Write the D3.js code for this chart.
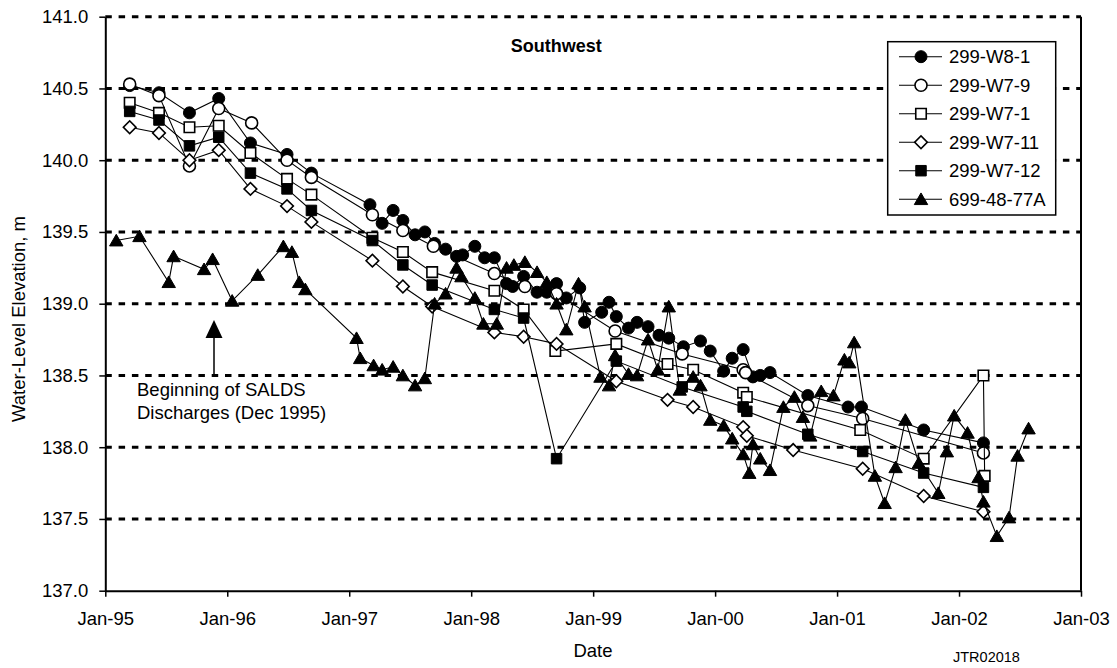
<!DOCTYPE html>
<html><head><meta charset="utf-8">
<script src="https://cdn.jsdelivr.net/npm/d3@7"></script>
<style>body{margin:0;background:#fff}svg{display:block;font-family:Arial,"Liberation Sans",sans-serif}</style>
</head><body><svg id="c" width="1117" height="668"></svg>
<script>
// ---------- DATA ----------
const seriesNames = ["299-W8-1","299-W7-9","299-W7-1","299-W7-11","299-W7-12","699-48-77A"];
const xTickYears = [1995,1996,1997,1998,1999,2000,2001,2002,2003];
const xTickLabels = ["Jan-95","Jan-96","Jan-97","Jan-98","Jan-99","Jan-00","Jan-01","Jan-02","Jan-03"];
const yTickValues = [137.0,137.5,138.0,138.5,139.0,139.5,140.0,140.5,141.0];

const w81Dates = [1995.20,1995.44,1995.69,1995.93,1996.19,1996.49,1996.69,1997.17,1997.27,1997.36,1997.44,1997.54,1997.62,1997.70,1997.79,1997.88,1997.93,1998.03,1998.11,1998.19,1998.29,1998.34,1998.43,1998.54,1998.62,1998.70,1998.78,1998.89,1998.93,1999.07,1999.13,1999.19,1999.29,1999.36,1999.45,1999.54,1999.62,1999.74,1999.88,1999.96,2000.07,2000.14,2000.23,2000.31,2000.37,2000.45,2000.76,2001.09,2001.20,2001.71,2002.20];
const w81Values = [140.52,140.47,140.33,140.43,140.12,140.04,139.91,139.69,139.56,139.65,139.58,139.48,139.50,139.42,139.38,139.33,139.34,139.40,139.32,139.32,139.14,139.12,139.19,139.08,139.08,139.14,139.04,139.11,138.87,138.94,139.01,138.91,138.83,138.87,138.84,138.78,138.76,138.70,138.74,138.67,138.53,138.62,138.68,138.49,138.50,138.52,138.36,138.28,138.28,138.12,138.03];

const w79Dates = [1995.20,1995.44,1995.69,1995.93,1996.20,1996.49,1996.69,1997.19,1997.44,1997.69,1998.19,1998.44,1998.70,1999.18,1999.73,2000.23,2000.25,2000.76,2001.21,2002.20];
const w79Values = [140.53,140.45,139.96,140.36,140.26,140.00,139.88,139.62,139.51,139.40,139.21,139.12,139.07,138.81,138.65,138.54,138.52,138.29,138.20,137.96];

const w71Dates = [1995.20,1995.44,1995.69,1995.93,1996.19,1996.49,1996.69,1997.19,1997.44,1997.68,1998.19,1998.43,1998.69,1999.19,1999.61,1999.82,2000.23,2000.26,2001.19,2001.71,2002.20,2002.21];
const w71Values = [140.40,140.33,140.23,140.24,140.05,139.87,139.76,139.46,139.36,139.22,139.09,138.96,138.67,138.72,138.58,138.54,138.38,138.35,138.12,137.92,138.50,137.80];

const w711Dates = [1995.20,1995.44,1995.69,1995.93,1996.19,1996.49,1996.69,1997.19,1997.44,1997.68,1998.19,1998.43,1998.70,1999.19,1999.61,1999.82,2000.23,2000.26,2000.64,2001.21,2001.71,2002.20];
const w711Values = [140.23,140.19,140.00,140.07,139.80,139.68,139.57,139.30,139.12,138.98,138.80,138.77,138.72,138.46,138.33,138.28,138.14,138.08,137.98,137.85,137.66,137.55];

const w712Dates = [1995.20,1995.44,1995.69,1995.93,1996.19,1996.49,1996.69,1997.19,1997.44,1997.68,1998.19,1998.43,1998.70,1999.19,1999.73,2000.23,2000.26,2000.76,2001.21,2001.71,2002.20];
const w712Values = [140.34,140.28,140.10,140.16,139.91,139.80,139.65,139.44,139.27,139.13,138.96,138.90,137.92,138.60,138.42,138.28,138.25,138.09,137.97,137.82,137.72];

const w4877Dates = [1995.09,1995.28,1995.52,1995.56,1995.81,1995.88,1996.04,1996.25,1996.46,1996.53,1996.59,1996.64,1997.06,1997.09,1997.20,1997.27,1997.36,1997.44,1997.54,1997.62,1997.70,1997.79,1997.88,1997.92,1998.03,1998.10,1998.21,1998.29,1998.35,1998.44,1998.54,1998.62,1998.70,1998.78,1998.88,1998.93,1999.06,1999.13,1999.18,1999.29,1999.36,1999.45,1999.53,1999.62,1999.71,1999.82,1999.88,1999.96,2000.07,2000.14,2000.23,2000.28,2000.31,2000.37,2000.45,2000.56,2000.65,2000.72,2000.78,2000.87,2000.97,2001.06,2001.10,2001.14,2001.31,2001.39,2001.48,2001.56,2001.67,2001.83,2001.90,2001.96,2002.07,2002.16,2002.20,2002.31,2002.41,2002.48,2002.57];
const w4877Values = [139.44,139.47,139.15,139.33,139.24,139.31,139.02,139.20,139.40,139.36,139.15,139.10,138.76,138.62,138.57,138.54,138.56,138.50,138.43,138.48,139.00,139.07,139.25,139.19,139.04,138.86,138.86,139.25,139.27,139.29,139.22,139.15,139.00,138.82,139.14,138.98,138.49,138.43,138.64,138.51,138.50,138.75,138.54,138.98,138.40,138.49,138.43,138.19,138.15,138.06,137.95,137.82,138.02,137.92,137.84,138.28,138.35,138.21,138.08,138.39,138.36,138.61,138.59,138.73,137.80,137.61,137.86,138.19,137.89,137.68,137.97,138.22,138.10,137.79,137.62,137.38,137.51,137.94,138.13];

const allDates = [w81Dates,w79Dates,w71Dates,w711Dates,w712Dates,w4877Dates];
const allValues = [w81Values,w79Values,w71Values,w711Values,w712Values,w4877Values];

// ---------- STYLE ----------
const markerStyle = [
  {shape:"circle", fill:"#000"},
  {shape:"circle", fill:"#fff"},
  {shape:"square", fill:"#fff"},
  {shape:"diamond", fill:"#fff"},
  {shape:"square", fill:"#000"},
  {shape:"triangle", fill:"#000"}
];

const svg = d3.select("#c");
const L = 105.3, R = 1081, T = 16.7, B = 590.7;
const x = d3.scaleLinear().domain([1995, 2003]).range([L, R]);
const y = d3.scaleLinear().domain([137, 141]).range([B, T]);
const FS = "18.5px";

// gridlines
svg.append("g").selectAll("line").data(yTickValues.filter(v => v > 137))
  .join("line")
  .attr("x1", L).attr("x2", R)
  .attr("y1", d => y(d)).attr("y2", d => y(d))
  .attr("stroke", "#000").attr("stroke-width", 3)
  .attr("stroke-dasharray", "6.5,6.8");

// right border
svg.append("line").attr("x1", R).attr("x2", R).attr("y1", T).attr("y2", B)
  .attr("stroke", "#000").attr("stroke-width", 2);

// axes
const yAxis = d3.axisLeft(y).tickValues(yTickValues).tickFormat(d3.format(".1f"))
  .tickSize(6).tickSizeOuter(0).tickPadding(11);
const gy = svg.append("g").attr("transform", `translate(${L},0)`).call(yAxis);
gy.select(".domain").attr("stroke-width", 2);
gy.selectAll(".tick line").attr("stroke-width", 1.5);
gy.selectAll("text").attr("font-size", FS).attr("font-family", "Arial, 'Liberation Sans', sans-serif").attr("fill", "#000");

const xAxis = d3.axisBottom(x).tickValues(xTickYears)
  .tickFormat((d, i) => xTickLabels[i]).tickSize(6).tickSizeOuter(0).tickPadding(15);
const gx = svg.append("g").attr("transform", `translate(0,${B})`).call(xAxis);
gx.select(".domain").attr("stroke-width", 2);
gx.selectAll(".tick line").attr("stroke-width", 1.5);
gx.selectAll("text").attr("font-size", FS).attr("font-family", "Arial, 'Liberation Sans', sans-serif").attr("fill", "#000");

// marker generator
function symbolPath(shape) {
  if (shape === "circle") return d3.symbol(d3.symbolCircle, Math.PI * 36)();
  if (shape === "square") return d3.symbol(d3.symbolSquare, 110)();
  if (shape === "diamond") return d3.symbol(d3.symbolSquare, 80)();
  return d3.symbol(d3.symbolTriangle, 78)();
}
function drawMarker(g, shape, fill, cx, cy) {
  let tr = `translate(${cx},${cy})`;
  if (shape === "diamond") tr += " rotate(45)";
  if (shape === "triangle") tr = `translate(${cx},${cy + 1.5})`;
  g.append("path").attr("d", symbolPath(shape)).attr("transform", tr)
    .attr("fill", fill).attr("stroke", "#000")
    .attr("stroke-width", fill === "#fff" ? 1.6 : 1);
}

const line = d3.line().x(d => x(d[0])).y(d => y(d[1]));

seriesNames.forEach((name, si) => {
  const pts = allDates[si].map((d, i) => [d, allValues[si][i]]);
  const g = svg.append("g");
  g.append("path").datum(pts).attr("d", line).attr("fill", "none")
    .attr("stroke", "#000").attr("stroke-width", 1.1);
  pts.forEach(p => drawMarker(g, markerStyle[si].shape, markerStyle[si].fill, x(p[0]), y(p[1])));
});

// title
svg.append("text").attr("x", 510.7).attr("y", 51.5).attr("font-size", "18px")
  .attr("font-weight", "bold").text("Southwest");

// legend
const lg = svg.append("g");
lg.append("rect").attr("x", 887.7).attr("y", 41.7).attr("width", 168).attr("height", 173.3)
  .attr("fill", "#fff").attr("stroke", "#000").attr("stroke-width", 1.5);
seriesNames.forEach((name, i) => {
  const ly = 56.7 + i * 28.5;
  lg.append("line").attr("x1", 899).attr("x2", 942).attr("y1", ly).attr("y2", ly)
    .attr("stroke", "#000").attr("stroke-width", 1.1);
  drawMarker(lg, markerStyle[i].shape, markerStyle[i].fill, 921, ly);
  lg.append("text").attr("x", 949).attr("y", ly).attr("dy", "0.36em")
    .attr("font-size", FS).text(name);
});

// annotation
svg.append("line").attr("x1", 214).attr("x2", 214).attr("y1", 376).attr("y2", 336)
  .attr("stroke", "#000").attr("stroke-width", 1.5);
svg.append("path").attr("d", "M214,320 L222.5,338 L205.5,338 Z").attr("fill", "#000");
svg.append("text").attr("x", 137).attr("y", 396).attr("font-size", FS).text("Beginning of SALDS");
svg.append("text").attr("x", 137).attr("y", 419).attr("font-size", FS).text("Discharges (Dec 1995)");

// axis titles
svg.append("text").attr("transform", "translate(25,319) rotate(-90)")
  .attr("text-anchor", "middle").attr("font-size", FS).text("Water-Level Elevation, m");
svg.append("text").attr("x", 593).attr("y", 657).attr("text-anchor", "middle")
  .attr("font-size", FS).text("Date");
svg.append("text").attr("x", 953).attr("y", 662).attr("font-size", "14.5px").text("JTR02018");
</script></body></html>
